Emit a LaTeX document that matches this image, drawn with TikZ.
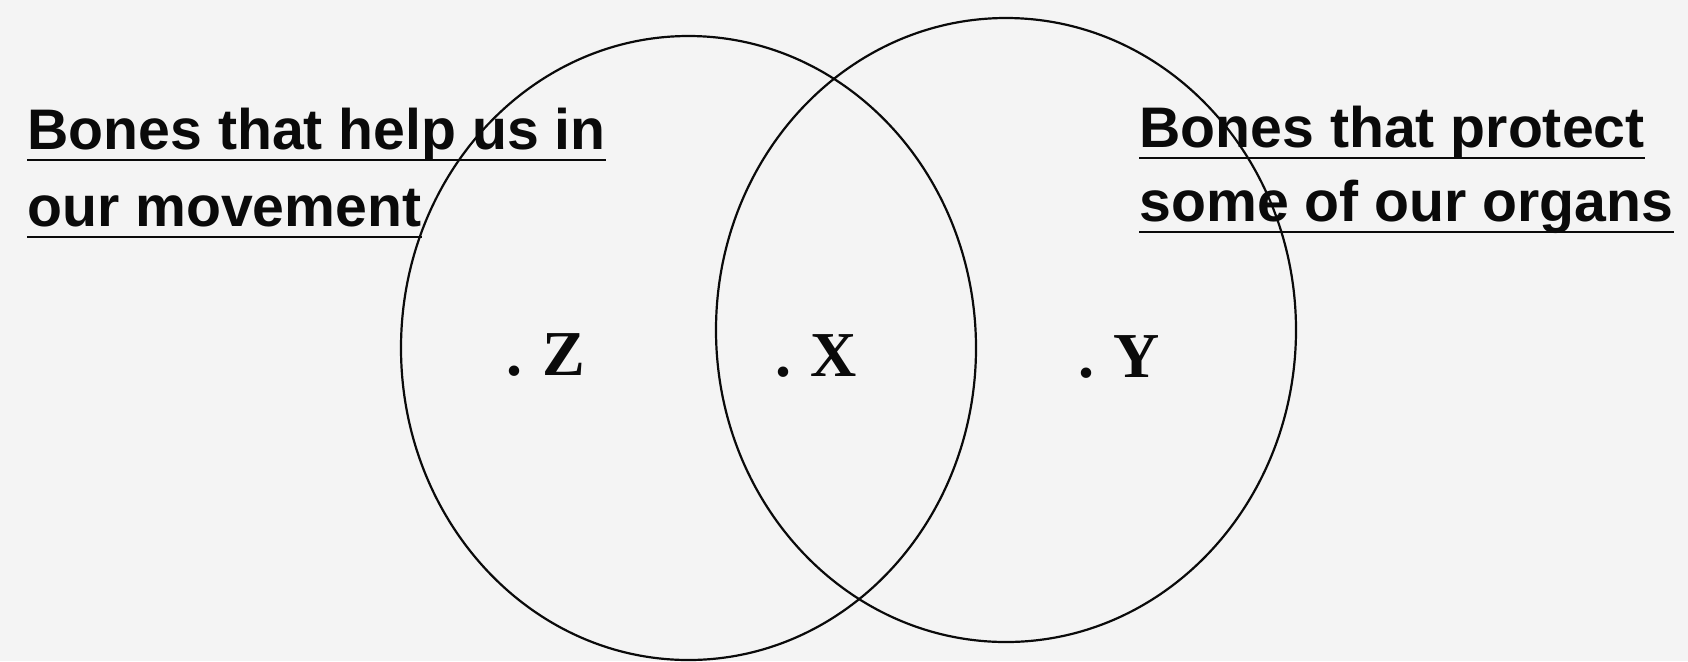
\documentclass[tikz,border=0pt]{standalone}
\usepackage{fontspec}
\setmainfont{Liberation Sans}
\newfontfamily\letterfont{Liberation Serif}
\usetikzlibrary{positioning}
\definecolor{paper}{RGB}{244,244,244}
\definecolor{ink}{RGB}{10,10,10}

\begin{document}
\begin{tikzpicture}[x=0.5pt,y=-0.5pt,
    setline/.style={ink, line width=1.1pt},
    uline/.style={ink, line width=1.4pt},
    caption/.style={anchor=base west, inner sep=0pt, text=ink, font=\bfseries\fontsize{28.6pt}{34pt}\selectfont},
    region/.style={anchor=base west, inner sep=0pt, text=ink, font=\letterfont\bfseries\fontsize{32pt}{36pt}\selectfont}]
    \fill[paper] (0,0) rectangle (1688,661);
    \useasboundingbox (0,0) rectangle (1688,661);
    % the two sets
    \coordinate (movecentre) at (688.5,348);
    \coordinate (protcentre) at (1006,330);
    \draw[setline] (movecentre) ellipse [x radius=287.5, y radius=312];
    \draw[setline] (protcentre) ellipse [x radius=290, y radius=312];
    % captions
    \node[caption] (moveA) at (27,149) {Bones that help us in};
    \node[caption] (moveB) at (27,226) {our movement};
    \node[caption] (protA) at (1139,147) {Bones that protect};
    \node[caption] (protB) at (1139,221) {some of our organs};
    \foreach \n in {moveA,moveB,protA,protB}{
      \draw[uline] ([yshift=-5.5pt]\n.base west) -- ([yshift=-5.5pt]\n.base east);
    }
    % points
    \node[region] (zpt) at (506,375) {.\hspace{0.32em}Z};
    \node[region] (xpt) at (775,376) {.\hspace{0.3em}X};
    \node[region] (ypt) at (1078,377) {.\hspace{0.3em}Y};
  \end{tikzpicture}
\end{document}
